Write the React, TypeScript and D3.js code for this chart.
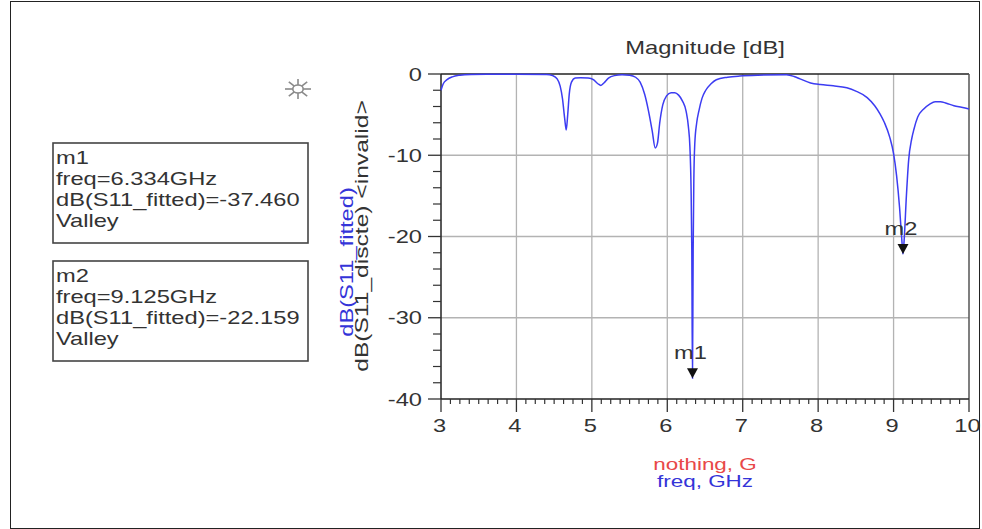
import React from "react"
import * as d3 from "d3"

const W = 982
const H = 529

// S11 fitted curve
const freqGHz = [
  3.0, 3.03, 3.08, 3.15, 3.25, 3.4, 3.6, 4.0, 4.4, 4.48, 4.54, 4.58, 4.61, 4.64, 4.66, 4.68, 4.7, 4.73,
  4.78, 4.85, 4.95, 5.02, 5.08, 5.12, 5.16, 5.22, 5.3, 5.4, 5.5, 5.58, 5.64, 5.7, 5.75, 5.8, 5.84,
  5.87, 5.9, 5.94, 5.99, 6.05, 6.1, 6.15, 6.2, 6.25, 6.28, 6.3, 6.315, 6.325, 6.334, 6.343, 6.352,
  6.365, 6.39, 6.42, 6.46, 6.51, 6.58, 6.65, 6.8, 6.96, 7.2, 7.58, 7.68, 7.76, 7.9, 8.03, 8.2, 8.38,
  8.5, 8.65, 8.75, 8.82, 8.88, 8.95, 9.0, 9.04, 9.08, 9.11, 9.125, 9.14, 9.17, 9.2, 9.24, 9.27, 9.32,
  9.4, 9.48, 9.55, 9.62, 9.7, 9.8, 9.9, 10.0,
]
const s11dB = [
  -2.0, -1.2, -0.7, -0.35, -0.15, -0.05, -0.02, -0.02, -0.05, -0.2, -0.6, -1.5, -3.0, -5.5, -6.9, -5.0,
  -2.5, -1.0, -0.5, -0.45, -0.5, -0.7, -1.2, -1.4, -1.1, -0.5, -0.2, -0.1, -0.15, -0.4, -1.0, -2.5,
  -4.5, -7.0, -9.1, -8.5, -6.0, -3.8, -2.7, -2.3, -2.3, -2.6, -3.3, -4.6, -6.5, -9.0, -14, -21.7,
  -37.46, -21.7, -13, -8.5, -6.0, -4.5, -3.0, -2.0, -1.2, -0.7, -0.4, -0.25, -0.15, -0.1, -0.3, -0.6,
  -1.1, -1.3, -1.45, -1.7, -2.1, -2.9, -3.9, -4.9, -6.0, -7.8, -9.8, -12.5, -16.5, -20.5, -22.16,
  -20.5, -15, -10.6, -8.0, -6.8, -5.3, -4.3, -3.7, -3.4, -3.4, -3.6, -3.9, -4.1, -4.3,
]

const xTicks = [3, 4, 5, 6, 7, 8, 9, 10]
const yTicks = [0, -10, -20, -30, -40]

const markerNames = ["m1", "m2"]
const markerFreq = [6.334, 9.125]
const markerValue = [-37.46, -22.159]
const markerFreqText = ["6.334GHz", "9.125GHz"]
const markerValueText = ["-37.460", "-22.159"]

const left = 441
const right = 969
const top = 74
const bottom = 399

const x = d3.scaleLinear().domain([3, 10]).range([left, right])
const y = d3.scaleLinear().domain([0, -40]).range([top, bottom])

const FONT = "Liberation Sans, Arial, sans-serif"
const SX = 1.28 // the original glyphs are wide

const Txt = ({ x, y, size = 18.5, fill = "#333", anchor = "start", rot = 0, sx = SX, children }: any) => (
  <text
    transform={`translate(${x},${y}) rotate(${rot}) scale(${sx},1)`}
    fontSize={size}
    fontFamily={FONT}
    fill={fill}
    textAnchor={anchor}
  >
    {children}
  </text>
)

const App = () => {
  const pts = freqGHz.map((f, i) => [f, s11dB[i]] as [number, number])
  const line = d3
    .line<[number, number]>()
    .x(d => x(d[0]))
    .y(d => y(d[1]))
    .curve(d3.curveMonotoneX)

  const xMinor = d3.range(3, 10, 0.125).filter(v => Math.abs(v - Math.round(v)) > 1e-6)
  const yMinor = d3.range(0, -40, -2).filter(v => v % 10 !== 0)

  // sun-like icon
  const sun = d3.range(8).map(i => (i * Math.PI) / 4)

  return (
    <svg width={W} height={H} style={{ position: "absolute", left: 0, top: 0, background: "#fff" }}>
      <rect x={10.5} y={1.5} width={969} height={527} fill="none" stroke="#222" strokeWidth={1} />

      <Txt x={705} y={54} anchor="middle" size={19} sx={1.25}>
        Magnitude [dB]
      </Txt>

      {/* grid */}
      {xTicks.slice(1, -1).map(t => (
        <line key={"gx" + t} x1={x(t)} x2={x(t)} y1={top} y2={bottom} stroke="#b3b3b3" strokeWidth={1.3} />
      ))}
      {yTicks.slice(1, -1).map(t => (
        <line key={"gy" + t} x1={left} x2={right} y1={y(t)} y2={y(t)} stroke="#b3b3b3" strokeWidth={1.3} />
      ))}

      {/* frame */}
      <line x1={left} x2={right} y1={top} y2={top} stroke="#222" strokeWidth={1.5} />
      <line x1={right} x2={right} y1={top} y2={bottom} stroke="#555" strokeWidth={1.5} />
      <line x1={left} x2={left} y1={top} y2={bottom} stroke="#222" strokeWidth={1.5} />
      <line x1={left} x2={right} y1={bottom} y2={bottom} stroke="#222" strokeWidth={1.5} />

      {/* y ticks */}
      {yTicks.map(t => (
        <g key={"yt" + t}>
          <line x1={left - 13} x2={left} y1={y(t)} y2={y(t)} stroke="#333" strokeWidth={1.3} />
          <Txt x={422} y={y(t) + 6.5} anchor="end">
            {t}
          </Txt>
        </g>
      ))}
      {yMinor.map(t => (
        <line key={"ym" + t} x1={left - 8} x2={left} y1={y(t)} y2={y(t)} stroke="#333" strokeWidth={1.2} />
      ))}

      {/* x ticks */}
      {xTicks.map(t => (
        <g key={"xt" + t}>
          <line x1={x(t)} x2={x(t)} y1={bottom} y2={bottom + 13} stroke="#333" strokeWidth={1.3} />
          <Txt x={x(t) - 1.5} y={432} anchor="middle">
            {t}
          </Txt>
        </g>
      ))}
      {xMinor.map(t => (
        <line key={"xm" + t} x1={x(t)} x2={x(t)} y1={bottom} y2={bottom + 5} stroke="#333" strokeWidth={1.2} />
      ))}

      {/* axis titles */}
      <Txt x={353} y={262} rot={-90} fill="#3434d8" anchor="middle">
        dB(S11_fitted)
      </Txt>
      <Txt x={368} y={236} rot={-90} fill="#333" anchor="middle" sx={1.33}>
        dB(S11_discte) &lt;invalid&gt;
      </Txt>
      <Txt x={705} y={470} size={17} sx={1.32} fill="#e84848" anchor="middle">
        nothing, G
      </Txt>
      <Txt x={705} y={487} size={17} sx={1.32} fill="#3434d8" anchor="middle">
        freq, GHz
      </Txt>

      {/* curve */}
      <path d={line(pts) || ""} fill="none" stroke="#3c3cf2" strokeWidth={1.5} />

      {/* markers */}
      {markerNames.map((m, i) => {
        const mx = x(markerFreq[i])
        const my = y(markerValue[i])
        return (
          <g key={m}>
            <path d={`M${mx - 5.5},${my - 10}L${mx + 5.5},${my - 10}L${mx},${my}Z`} fill="#111" />
            <Txt x={mx - 2} y={my - 19} anchor="middle">
              {m}
            </Txt>
          </g>
        )
      })}

      {/* marker readout boxes */}
      {markerNames.map((m, i) => {
        const by = 143 + i * 118
        const lines = [m, "freq=" + markerFreqText[i], "dB(S11_fitted)=" + markerValueText[i], "Valley"]
        return (
          <g key={"box" + m}>
            <rect x={53} y={by} width={255} height={100} fill="none" stroke="#444" strokeWidth={1.6} />
            {lines.map((s, j) => (
              <Txt key={j} x={56} y={by + 20.5 + j * 21.3}>
                {s}
              </Txt>
            ))}
          </g>
        )
      })}

      {/* sun icon */}
      <g transform="translate(298,89)" stroke="#8a8a8a" strokeWidth={1.6}>
        {sun.map((a, i) => (
          <line key={i} x1={Math.cos(a) * 4 * 1.3} y1={Math.sin(a) * 4} x2={Math.cos(a) * 10 * 1.3} y2={Math.sin(a) * 10} />
        ))}
        <ellipse rx={4 * 1.3} ry={4} fill="none" />
      </g>
    </svg>
  )
}

export default App
